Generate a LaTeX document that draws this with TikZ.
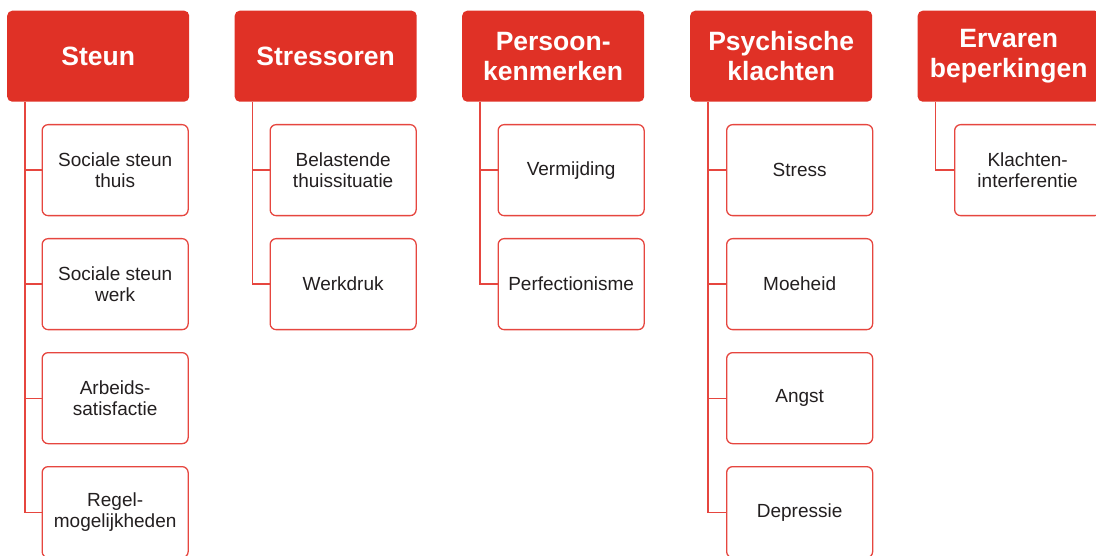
\documentclass[tikz,border=0pt]{standalone}
\usepackage{fontspec}
\setmainfont{Liberation Sans}
\definecolor{hdr}{HTML}{E03126}
\definecolor{lnk}{HTML}{E6463F}
\definecolor{txt}{HTML}{231F20}
\begin{document}
\begin{tikzpicture}[x=1pt,y=-1pt,
 header/.style={fill=hdr, draw=none, rounded corners=5pt, minimum width=182pt, minimum height=91pt, anchor=north west, inner sep=0pt, align=center, text=white, font=\fontsize{26.5}{30}\selectfont\bfseries},
 item/.style={draw=lnk, line width=1.3pt, fill=white, rounded corners=6pt, minimum width=146pt, minimum height=91pt, anchor=north west, inner sep=0pt, align=center, text=txt, font=\fontsize{19}{20.5}\selectfont},
 conn/.style={draw=lnk, line width=1.3pt}]
\useasboundingbox (0,0) rectangle (1096,556);

% headers
\node[header] (h1) at (7,10.5) {Steun};
\node[header] (h2) at (234.5,10.5) {Stressoren};
\node[header] (h3) at (462,10.5) {Persoon-\\kenmerken};
\node[header] (h4) at (690,10.5) {Psychische\\klachten};
\node[header] (h5) at (917.5,10.5) {Ervaren\\beperkingen};

% spine coordinates
\coordinate (s1) at ([xshift=18pt]h1.south west);
\coordinate (s2) at ([xshift=18pt]h2.south west);
\coordinate (s3) at ([xshift=18pt]h3.south west);
\coordinate (s4) at ([xshift=18pt]h4.south west);
\coordinate (s5) at ([xshift=18pt]h5.south west);

% column 1
\node[item] (c11) at (41.5,124) {Sociale steun\\thuis};
\node[item] (c12) at (41.5,238) {Sociale steun\\werk};
\node[item] (c13) at (41.5,352) {Arbeids-\\satisfactie};
\node[item] (c14) at (41.5,466) {Regel-\\mogelijkheden};
% column 2
\node[item] (c21) at (269.5,124) {Belastende\\thuissituatie};
\node[item] (c22) at (269.5,238) {Werkdruk};
% column 3
\node[item] (c31) at (497.5,124) {Vermijding};
\node[item] (c32) at (497.5,238) {Perfectionisme};
% column 4
\node[item] (c41) at (726,124) {Stress};
\node[item] (c42) at (726,238) {Moeheid};
\node[item] (c43) at (726,352) {Angst};
\node[item] (c44) at (726,466) {Depressie};
% column 5
\node[item] (c51) at (954,124) {Klachten-\\interferentie};

% connectors
\draw[conn] (s1) |- (c14.west);
\draw[conn] (s1 |- c11.west) -- (c11.west);
\draw[conn] (s1 |- c12.west) -- (c12.west);
\draw[conn] (s1 |- c13.west) -- (c13.west);

\draw[conn] (s2) |- (c22.west);
\draw[conn] (s2 |- c21.west) -- (c21.west);

\draw[conn] (s3) |- (c32.west);
\draw[conn] (s3 |- c31.west) -- (c31.west);

\draw[conn] (s4) |- (c44.west);
\draw[conn] (s4 |- c41.west) -- (c41.west);
\draw[conn] (s4 |- c42.west) -- (c42.west);
\draw[conn] (s4 |- c43.west) -- (c43.west);

\draw[conn] (s5) |- (c51.west);
\end{tikzpicture}
\end{document}
